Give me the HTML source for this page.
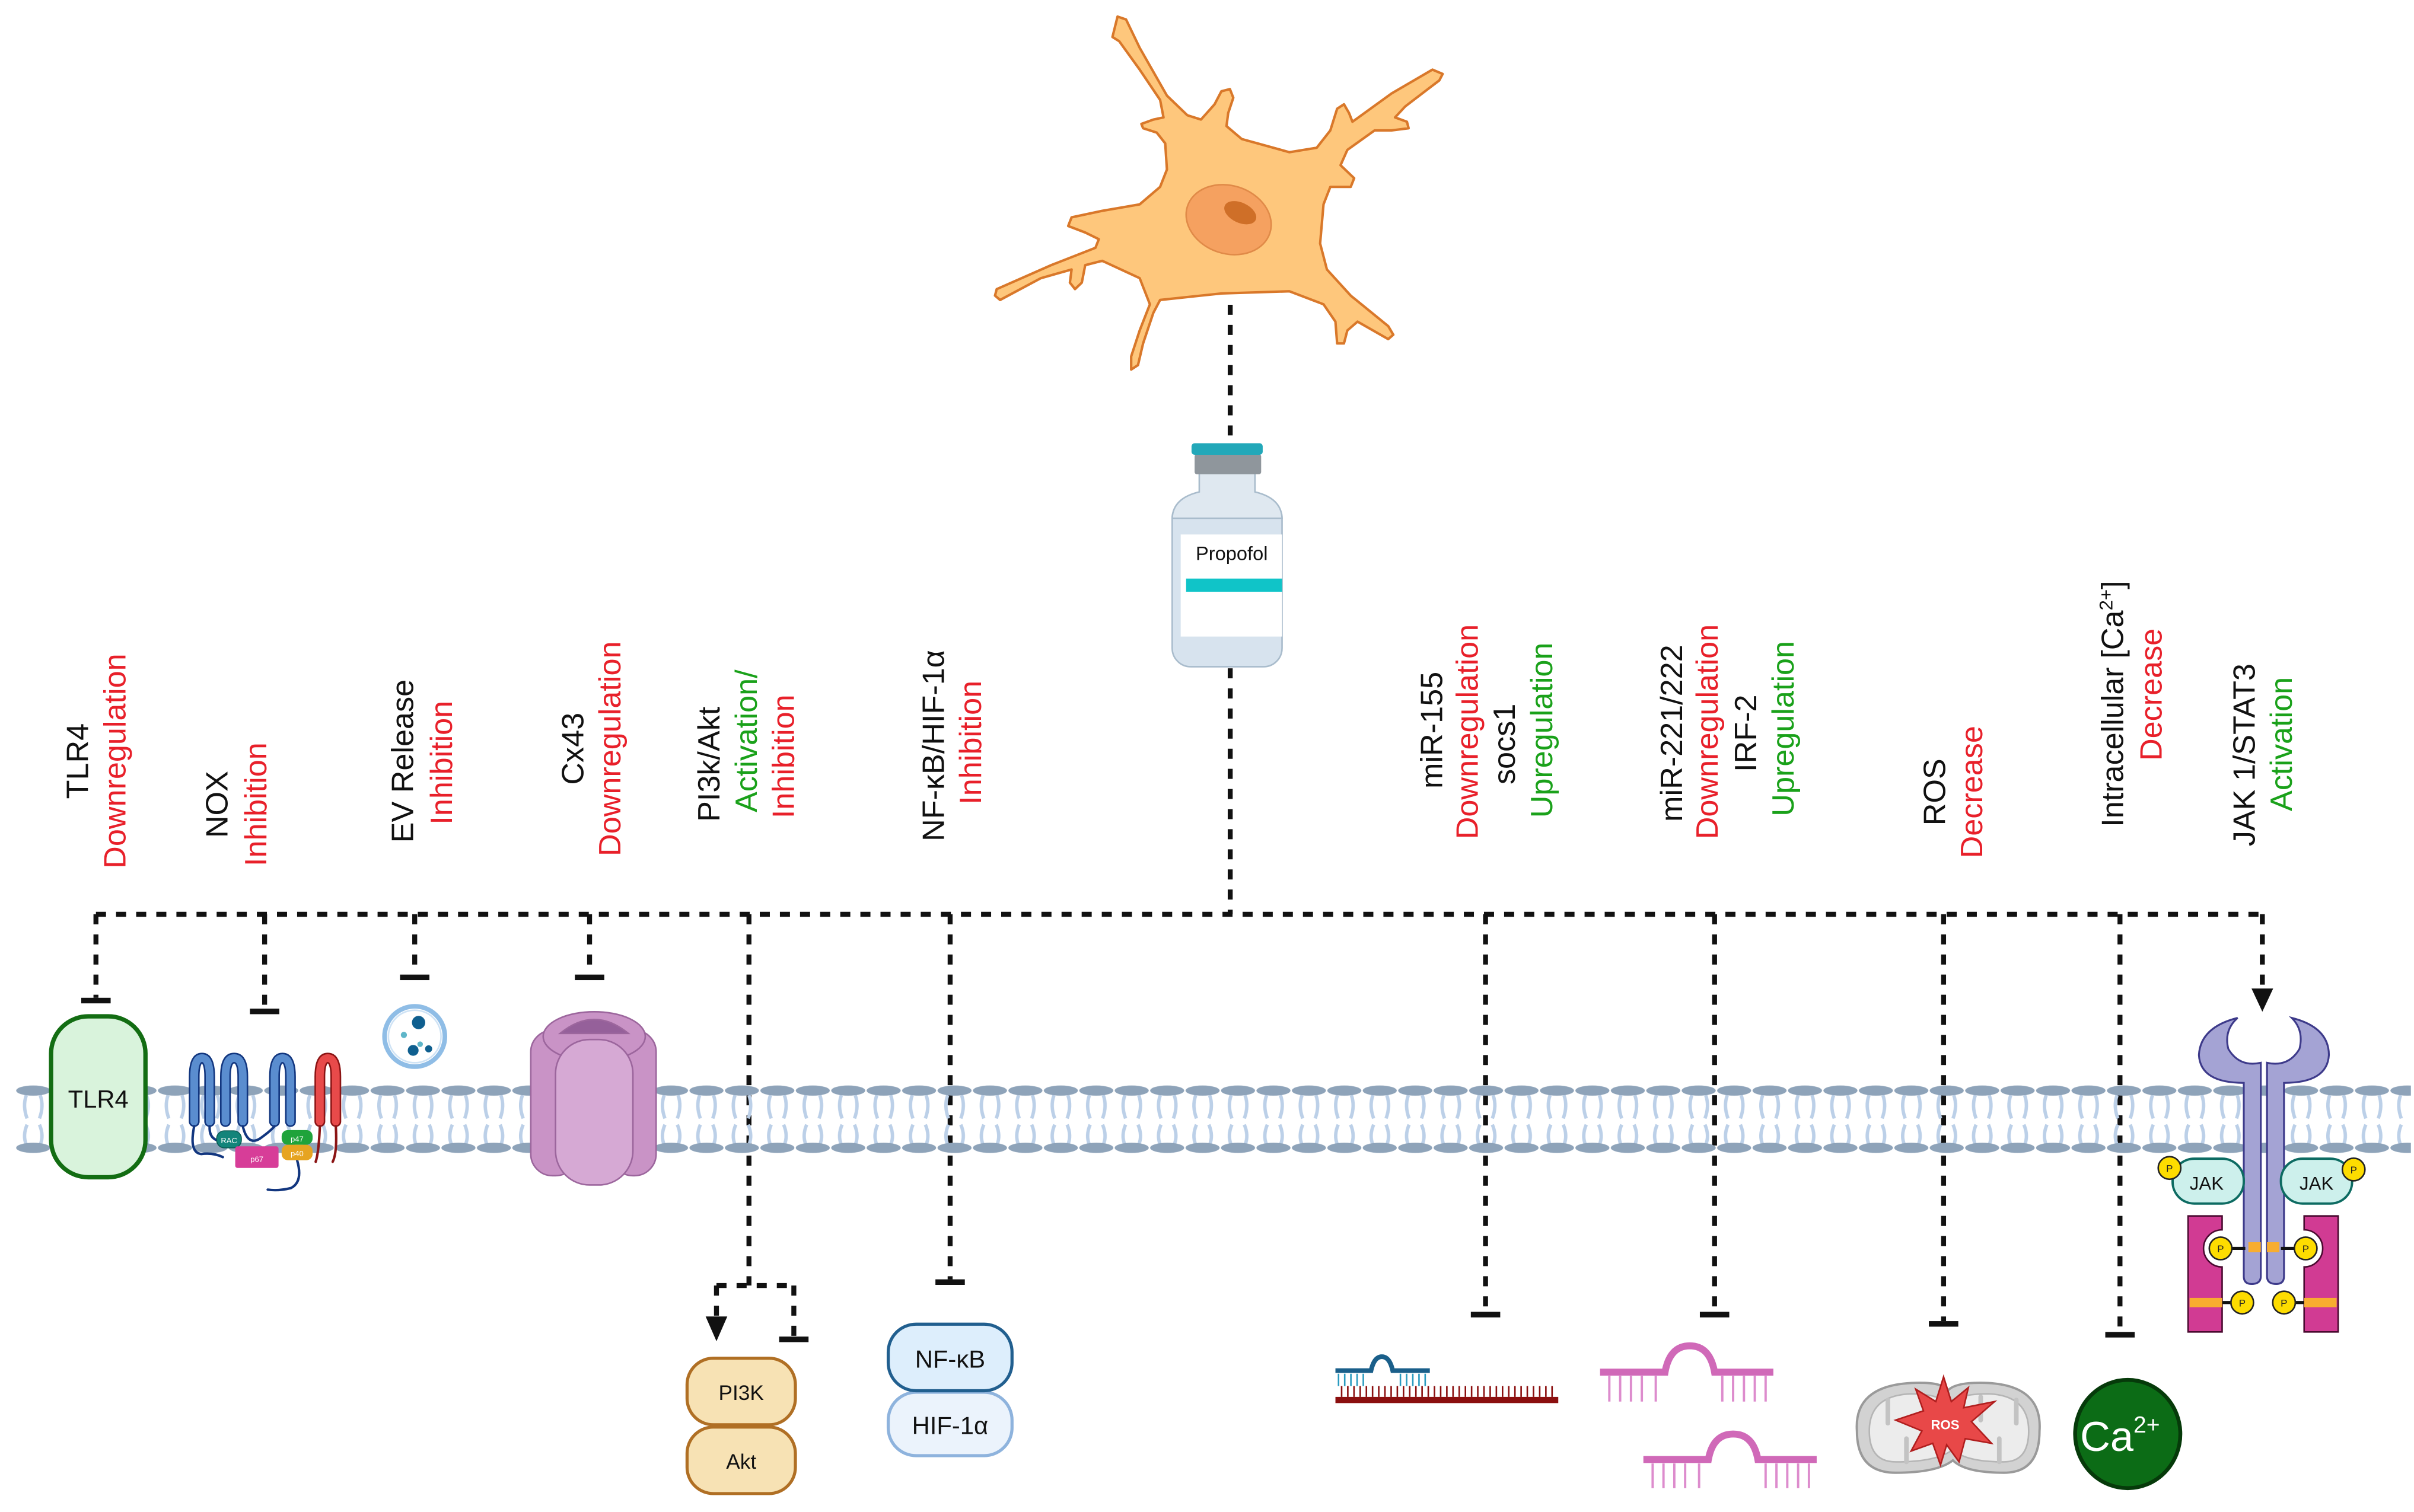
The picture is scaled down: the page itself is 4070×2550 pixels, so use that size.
<!DOCTYPE html>
<html><head><meta charset="utf-8"><style>
html,body{margin:0;padding:0;background:#fff;}
svg{display:block;}
text{font-family:"Liberation Sans",sans-serif;}
</style></head><body>
<svg width="4070" height="2550" viewBox="0 0 1560 977.4" xmlns="http://www.w3.org/2000/svg">
<defs>
<pattern id="mem" x="10" y="695" width="22.9" height="60" patternUnits="userSpaceOnUse">
<path d="M7,13 Q4.5,20 7.5,28 M16,13 Q18.5,20 15.5,28 M7.5,32 Q4.5,39 7,45 M15.5,32 Q18.5,39 16,45" stroke="#bcd0e8" stroke-width="2.2" fill="none"/>
<ellipse cx="11.45" cy="10" rx="11" ry="3.3" fill="#8ea3b9"/>
<ellipse cx="11.45" cy="47" rx="11" ry="3.3" fill="#8ea3b9"/>
</pattern>
</defs>
<rect width="1560" height="977.4" fill="#fff"/>

<!-- Neuron -->
<polygon fill="#fec77c" stroke="#d9782a" stroke-width="1.6" stroke-linejoin="round" points="718.9,23.9 722.2,10.7 727.7,12.6 736.5,30.9 754.1,61.8 767.3,74.5 776.1,77.3 784.9,67.4 789.3,59 794.8,57.6 797,63.2 793.7,73.1 792.6,81.5 802.5,89.9 833.3,98.4 850.9,95.5 859.7,84.3 864.1,70.3 868.5,67.4 871.8,73.1 874,78.7 899.3,60.4 925.7,45 932.3,47.8 930.1,52 908.1,68.8 901.5,75.9 909.2,78.7 910.3,82.9 899.3,84.3 888.3,84.3 870.7,96.9 866.3,106.8 875.1,115.2 872.9,120.8 859.7,120.8 855.3,132.1 853.1,157.4 857.5,174.2 872.9,191.1 897.1,210.8 900.4,216.4 897.1,219.2 877.3,207.9 870.7,213.6 868.5,222 864.1,222 863,207.9 855.3,196.7 833.3,188.3 789.3,189.7 749.7,193.9 745.3,202.3 738.7,222 735.4,236 731,238.9 731,230.4 736.5,213.6 743.1,196.7 736.5,179.8 712.3,168.6 701.3,171.4 699.1,182.7 694.7,186.9 691.4,182.7 692.5,174.2 672.7,179.8 646.3,193.9 643,191.1 644.1,186.9 679.3,171.4 707.9,160.2 710.1,154.6 701.3,150.3 690.3,146.1 692.5,140.5 712.3,136.3 736.5,132.1 749.7,120.8 754.1,109.6 753,92.7 747.5,85.7 738.7,82.9 737.6,80.1 745.3,77.3 751.9,75.9 749.7,64.6 736.5,45 723.3,26.7"/>
<ellipse cx="794" cy="142" rx="28" ry="22" transform="rotate(18 794 142)" fill="#f5a160" stroke="#e08a48" stroke-width="1"/>
<ellipse cx="801.5" cy="137.5" rx="11" ry="6.5" transform="rotate(25 801.5 137.5)" fill="#cf6f28"/>

<!-- dashed connectors -->
<g stroke="#111" stroke-width="3.2" fill="none" stroke-dasharray="6.5 6.5">
<path d="M795,197 V284"/>
<path d="M795,432 V591"/>
<path d="M62,591 H1462"/>
<path d="M62,591 V645"/>
<path d="M171,591 V652"/>
<path d="M268,591 V630"/>
<path d="M381,591 V630"/>
<path d="M484,591 V831"/>
<path d="M463,831 H513"/>
<path d="M463,831 V852"/>
<path d="M513,831 V864"/>
<path d="M614,591 V827"/>
<path d="M960,591 V848"/>
<path d="M1108,591 V848"/>
<path d="M1256,591 V854"/>
<path d="M1370,591 V861"/>
<path d="M1462,591 V640"/>
</g>
<!-- T bars -->
<g fill="#111">
<rect x="52.5" y="645" width="19" height="3.6"/>
<rect x="161.5" y="652" width="19" height="3.6"/>
<rect x="258.5" y="630" width="19" height="3.6"/>
<rect x="371.5" y="630" width="19" height="3.6"/>
<rect x="503.5" y="864" width="19" height="3.6"/>
<rect x="604.5" y="827" width="19" height="3.6"/>
<rect x="950.5" y="848" width="19" height="3.6"/>
<rect x="1098.5" y="848" width="19" height="3.6"/>
<rect x="1246.5" y="854" width="19" height="3.6"/>
<rect x="1360.5" y="861" width="19" height="3.6"/>
<polygon points="456,851 470,851 463,867"/>
<polygon points="1455,639 1469,639 1462,654"/>
</g>

<!-- Vial -->
<rect x="757.5" y="323" width="71" height="108" rx="12" fill="#d7e3ee" stroke="#a9bccc" stroke-width="1"/>
<path d="M775,306 H811 V318 Q828,322 828.5,335 H757.5 Q758,322 775,318 Z" fill="#dfe8f0" stroke="#a9bccc" stroke-width="1"/>
<rect x="772" y="293.6" width="43" height="13" fill="#8f969c" rx="1.5"/>
<rect x="770" y="286.5" width="46" height="7.5" fill="#22a8b9" rx="2"/>
<rect x="763" y="345.5" width="65.5" height="66" fill="#fff"/>
<rect x="766.5" y="374" width="62" height="8.5" fill="#10c4c8"/>
<text x="796" y="362" font-size="12.5" text-anchor="middle" fill="#111">Propofol</text>

<!-- Membrane -->
<rect x="10" y="695" width="1548" height="58" fill="url(#mem)"/>

<!-- TLR4 -->
<rect x="33" y="657" width="61" height="104" rx="24" fill="#d9f3dc" stroke="#136d13" stroke-width="2.8"/>
<text x="63.5" y="716" font-size="16" text-anchor="middle" fill="#111">TLR4</text>

<!-- NOX -->
<g stroke-linecap="round" fill="none">
<path d="M125.5,725 V696 Q125.5,684 130.5,684 Q135.5,684 135.5,696 V725" stroke="#12367f" stroke-width="7"/>
<path d="M125.5,725 V696 Q125.5,684 130.5,684 Q135.5,684 135.5,696 V725" stroke="#5a8dcf" stroke-width="5"/>
<path d="M145.7,725 V696 Q145.7,684 151.3,684 Q156.9,684 156.9,696 V725" stroke="#12367f" stroke-width="7"/>
<path d="M145.7,725 V696 Q145.7,684 151.3,684 Q156.9,684 156.9,696 V725" stroke="#5a8dcf" stroke-width="5"/>
<path d="M177.4,725 V696 Q177.4,684 182.5,684 Q187.7,684 187.7,696 V725" stroke="#12367f" stroke-width="7"/>
<path d="M177.4,725 V696 Q177.4,684 182.5,684 Q187.7,684 187.7,696 V725" stroke="#5a8dcf" stroke-width="5"/>
<path d="M206.7,725 V696 Q206.7,684 211.8,684 Q217,684 217,696 V725" stroke="#8b1414" stroke-width="7"/>
<path d="M206.7,725 V696 Q206.7,684 211.8,684 Q217,684 217,696 V725" stroke="#e84a4a" stroke-width="5"/>
<path d="M135.5,728 Q135,735 140,737" stroke="#12367f" stroke-width="1.6"/>
<path d="M156.9,728 Q160,741 168,736 Q175,731 177.4,728" stroke="#12367f" stroke-width="1.6"/>
<path d="M125.5,728 Q122,745 130,746 Q138,745 144,748" stroke="#12367f" stroke-width="1.6"/>
<path d="M192,750 Q196,764 188,768 Q180,770 173,769" stroke="#12367f" stroke-width="1.6"/>
<path d="M206.7,728 Q206,745 204,751 M217,728 Q218,745 215,751" stroke="#8b1414" stroke-width="1.6"/>
</g>
<rect x="140" y="731" width="16" height="11" rx="5" fill="#12847a" stroke="#0a5a52" stroke-width="0.6"/>
<text x="148" y="739" font-size="5" text-anchor="middle" fill="#fff">RAC</text>
<rect x="152" y="741" width="28" height="14" rx="1.5" fill="#d73d98"/>
<text x="166" y="751" font-size="5" text-anchor="middle" fill="#fff">p67</text>
<rect x="182" y="730.5" width="20" height="9.5" rx="4" fill="#1fa33b"/>
<text x="192" y="738" font-size="5" text-anchor="middle" fill="#fff">p47</text>
<rect x="182" y="740" width="20" height="10" rx="4" fill="#e6a421"/>
<text x="192" y="747.5" font-size="5" text-anchor="middle" fill="#fff">p40</text>

<!-- EV -->
<circle cx="268" cy="670" r="19.5" fill="#fff" stroke="#8fbde6" stroke-width="3"/>
<circle cx="268" cy="670" r="17" fill="none" stroke="#cfe3f5" stroke-width="1"/>
<circle cx="270.5" cy="661" r="4.3" fill="#0f5f8f"/>
<circle cx="261" cy="669" r="2" fill="#5fb6c9"/>
<circle cx="267" cy="679" r="3.5" fill="#0f5f8f"/>
<circle cx="271.5" cy="675" r="1.8" fill="#5fb6c9"/>
<circle cx="277" cy="678" r="2.3" fill="#0f5f8f"/>

<!-- Cx43 -->
<g stroke="#9c669d" stroke-width="1">
<rect x="343" y="666" width="30" height="94" rx="14" fill="#c993c6"/>
<rect x="395" y="666" width="29" height="94" rx="14" fill="#c993c6"/>
<ellipse cx="384" cy="670" rx="33" ry="16" fill="#c993c6"/>
<path d="M362,668 Q384,650 406,668 Z" fill="#95609a"/>
<rect x="359" y="672" width="50" height="94" rx="22" fill="#d6a9d4"/>
</g>

<!-- JAK/STAT receptor -->
<g stroke="#3d3a8a" stroke-width="1.2" fill="#a4a3d4">
<path d="M1446,658 Q1422,664 1421,682 Q1422,700 1450,700 V825 Q1450,830 1455,830 Q1461,830 1461,825 V687 Q1447,690 1440,678 Q1437,666 1446,658 Z"/>
<path d="M1481,658 Q1505,664 1505,682 Q1504,700 1476,700 V825 Q1476,830 1471,830 Q1465,830 1465,825 V687 Q1479,690 1486,678 Q1489,666 1481,658 Z"/>
</g>
<rect x="1453" y="803" width="8" height="6.5" fill="#f8ad30"/>
<rect x="1465" y="803" width="8" height="6.5" fill="#f8ad30"/>
<rect x="1404" y="749" width="46" height="29" rx="14" fill="#cdf0ec" stroke="#0d6b62" stroke-width="1.5"/>
<text x="1426" y="769" font-size="12" text-anchor="middle" fill="#111">JAK</text>
<rect x="1474" y="749" width="46" height="29" rx="14" fill="#cdf0ec" stroke="#0d6b62" stroke-width="1.5"/>
<text x="1497" y="769" font-size="12" text-anchor="middle" fill="#111">JAK</text>
<g stroke="#111" stroke-width="1">
<path d="M1414,786 H1436 V795 A12,12 0 0 0 1436,819 V861 H1414 Z" fill="#d13b93" stroke="#4a0a30"/>
<path d="M1511,786 H1489 V795 A12,12 0 0 1 1489,819 V861 H1511 Z" fill="#d13b93" stroke="#4a0a30"/>
</g>
<rect x="1415" y="839" width="21" height="6" fill="#f8ad30"/>
<rect x="1489" y="839" width="21" height="6" fill="#f8ad30"/>
<g stroke="#111" stroke-width="2"><path d="M1435,807 H1451 M1449,842 H1436 M1490,807 H1474 M1476,842 H1489"/></g>
<g fill="#fddc00" stroke="#222" stroke-width="1">
<circle cx="1402" cy="755" r="7.3"/><circle cx="1521" cy="756" r="7.3"/>
<circle cx="1435" cy="807" r="7.3"/><circle cx="1449" cy="842" r="7.3"/>
<circle cx="1490" cy="807" r="7.3"/><circle cx="1476" cy="842" r="7.3"/>
</g>
<g font-size="6.5" text-anchor="middle" fill="#222">
<text x="1402" y="757.5">P</text><text x="1521" y="758.5">P</text>
<text x="1435" y="809.5">P</text><text x="1449" y="844.5">P</text>
<text x="1490" y="809.5">P</text><text x="1476" y="844.5">P</text>
</g>

<!-- PI3K / Akt -->
<rect x="444" y="878" width="70" height="43" rx="17" fill="#f7e2b4" stroke="#b06f24" stroke-width="2"/>
<text x="479" y="905" font-size="13.5" text-anchor="middle" fill="#111">PI3K</text>
<rect x="444" y="922.5" width="70" height="43" rx="17" fill="#f7e2b4" stroke="#b06f24" stroke-width="2"/>
<text x="479" y="949.5" font-size="13.5" text-anchor="middle" fill="#111">Akt</text>

<!-- NF-kB / HIF -->
<rect x="574" y="900" width="80" height="41" rx="18" fill="#ebf3fc" stroke="#8eb3dd" stroke-width="2"/>
<text x="614" y="927" font-size="16" text-anchor="middle" fill="#111">HIF-1α</text>
<rect x="574" y="856" width="80" height="43" rx="18" fill="#ddeefc" stroke="#215f8f" stroke-width="2"/>
<text x="614" y="884" font-size="16" text-anchor="middle" fill="#111">NF-κB</text>

<!-- RNA red/blue -->
<g>
<rect x="863" y="903" width="144" height="4" fill="#8b0f0f"/>
<path d="M867,896 V903 M871,896 V903 M875,896 V903 M879,896 V903 M883,896 V903 M887,896 V903 M891,896 V903 M895,896 V903 M899,896 V903 M903,896 V903 M907,896 V903 M911,896 V903 M915,896 V903 M919,896 V903 M923,896 V903 M927,896 V903 M931,896 V903 M935,896 V903 M939,896 V903 M943,896 V903 M947,896 V903 M951,896 V903 M955,896 V903 M959,896 V903 M963,896 V903 M967,896 V903 M971,896 V903 M975,896 V903 M979,896 V903 M983,896 V903 M987,896 V903 M991,896 V903 M995,896 V903 M999,896 V903 M1003,896 V903" stroke="#8b0f0f" stroke-width="1"/>
<path d="M865,888 V896 M869,888 V896 M873,888 V896 M877,888 V896 M881,888 V896 M905,888 V896 M909,888 V896 M913,888 V896 M917,888 V896 M921,888 V896" stroke="#2a9bc0" stroke-width="1"/>
<path d="M863,886 H886 Q888,877 893,877 Q898,877 900,886 H924" stroke="#1a5f8a" stroke-width="3" fill="none"/>
</g>
<!-- RNA pink 1 -->
<g stroke="#d069b8" fill="none">
<path d="M1034,887 H1076 Q1079,870 1092,870 Q1105,870 1108,887 H1146" stroke-width="4.5"/>
<path d="M1040,889 V906 M1047,889 V906 M1054,889 V906 M1061,889 V906 M1070,889 V906 M1113,889 V906 M1120,889 V906 M1127,889 V906 M1134,889 V906 M1141,889 V906" stroke="#dd8ccd" stroke-width="1.5"/>
</g>
<!-- RNA pink 2 -->
<g stroke="#d069b8" fill="none">
<path d="M1062,943.5 H1104 Q1107,927 1120,927 Q1133,927 1136,943.5 H1174" stroke-width="4.5"/>
<path d="M1068,946 V962 M1075,946 V962 M1082,946 V962 M1089,946 V962 M1098,946 V962 M1141,946 V962 M1148,946 V962 M1155,946 V962 M1162,946 V962 M1169,946 V962" stroke="#dd8ccd" stroke-width="1.5"/>
</g>

<!-- Mitochondrion -->
<path d="M1200,925 Q1198,896 1235,894 Q1258,893 1258,900 Q1262,893 1285,894 Q1320,896 1318,925 Q1318,952 1295,952 Q1270,952 1262,944 Q1252,952 1225,952 Q1200,952 1200,925 Z" fill="#d2d2d2" stroke="#9a9a9a" stroke-width="1.5"/>
<path d="M1208,925 Q1208,902 1235,901 Q1252,901 1258,907 Q1266,901 1285,901 Q1311,902 1311,925 Q1311,945 1295,945 Q1270,945 1262,937 Q1252,945 1225,945 Q1208,945 1208,925 Z" fill="#ececec" stroke="#b5b5b5" stroke-width="1"/>
<path d="M1220,905 V920 M1232,945 V930 M1244,903 V918 M1280,903 V918 M1292,945 V930 M1303,905 V920" stroke="#c3c3c3" stroke-width="3" stroke-linecap="round"/>
<polygon points="1256,890 1261,906 1272,897 1269,910 1289,906 1274,919 1287,933 1270,930 1266,945 1258,934 1254,947 1249,933 1235,938 1242,925 1225,918 1243,912 1238,898 1251,906" fill="#e84848" stroke="#b01e1e" stroke-width="1"/>
<text x="1257" y="924" font-size="8.5" text-anchor="middle" fill="#fff" font-weight="bold">ROS</text>

<!-- Ca2+ -->
<ellipse cx="1375" cy="927" rx="34" ry="35" fill="#0c6c16" stroke="#063a0a" stroke-width="2.5"/>
<text x="1370" y="938" font-size="27" text-anchor="middle" fill="#fff">Ca<tspan font-size="15" dy="-12">2+</tspan></text>

<!-- Labels -->
<g font-size="20" text-anchor="middle">
<text transform="translate(57,492) rotate(-90)" fill="#111">TLR4</text>
<text transform="translate(81,492) rotate(-90)" fill="#e8202a">Downregulation</text>
<text transform="translate(147,520) rotate(-90)" fill="#111">NOX</text>
<text transform="translate(172,520) rotate(-90)" fill="#e8202a">Inhibition</text>
<text transform="translate(267,492) rotate(-90)" fill="#111">EV Release</text>
<text transform="translate(292,493) rotate(-90)" fill="#e8202a">Inhibition</text>
<text transform="translate(377,484) rotate(-90)" fill="#111">Cx43</text>
<text transform="translate(401,484) rotate(-90)" fill="#e8202a">Downregulation</text>
<text transform="translate(465,494) rotate(-90)" fill="#111">PI3k/Akt</text>
<text transform="translate(489,479) rotate(-90)" fill="#1aa11a">Activation/</text>
<text transform="translate(513,489) rotate(-90)" fill="#e8202a">Inhibition</text>
<text transform="translate(610,482) rotate(-90)" fill="#111">NF-κB/HIF-1α</text>
<text transform="translate(634,480) rotate(-90)" fill="#e8202a">Inhibition</text>
<text transform="translate(932,472) rotate(-90)" fill="#111">miR-155</text>
<text transform="translate(955,473) rotate(-90)" fill="#e8202a">Downregulation</text>
<text transform="translate(979,481) rotate(-90)" fill="#111">socs1</text>
<text transform="translate(1003,472) rotate(-90)" fill="#1aa11a">Upregulation</text>
<text transform="translate(1087,474) rotate(-90)" fill="#111">miR-221/222</text>
<text transform="translate(1110,473) rotate(-90)" fill="#e8202a">Downregulation</text>
<text transform="translate(1135,474) rotate(-90)" fill="#111">IRF-2</text>
<text transform="translate(1159,471) rotate(-90)" fill="#1aa11a">Upregulation</text>
<text transform="translate(1257,512) rotate(-90)" fill="#111">ROS</text>
<text transform="translate(1281,512) rotate(-90)" fill="#e8202a">Decrease</text>
<text transform="translate(1372,455) rotate(-90)" fill="#111">Intracellular [Ca<tspan font-size="12" dy="-7">2+</tspan><tspan dy="7">]</tspan></text>
<text transform="translate(1397,449) rotate(-90)" fill="#e8202a">Decrease</text>
<text transform="translate(1457,488) rotate(-90)" fill="#111">JAK 1/STAT3</text>
<text transform="translate(1481,481) rotate(-90)" fill="#1aa11a">Activation</text>
</g>
</svg>
</body></html>
